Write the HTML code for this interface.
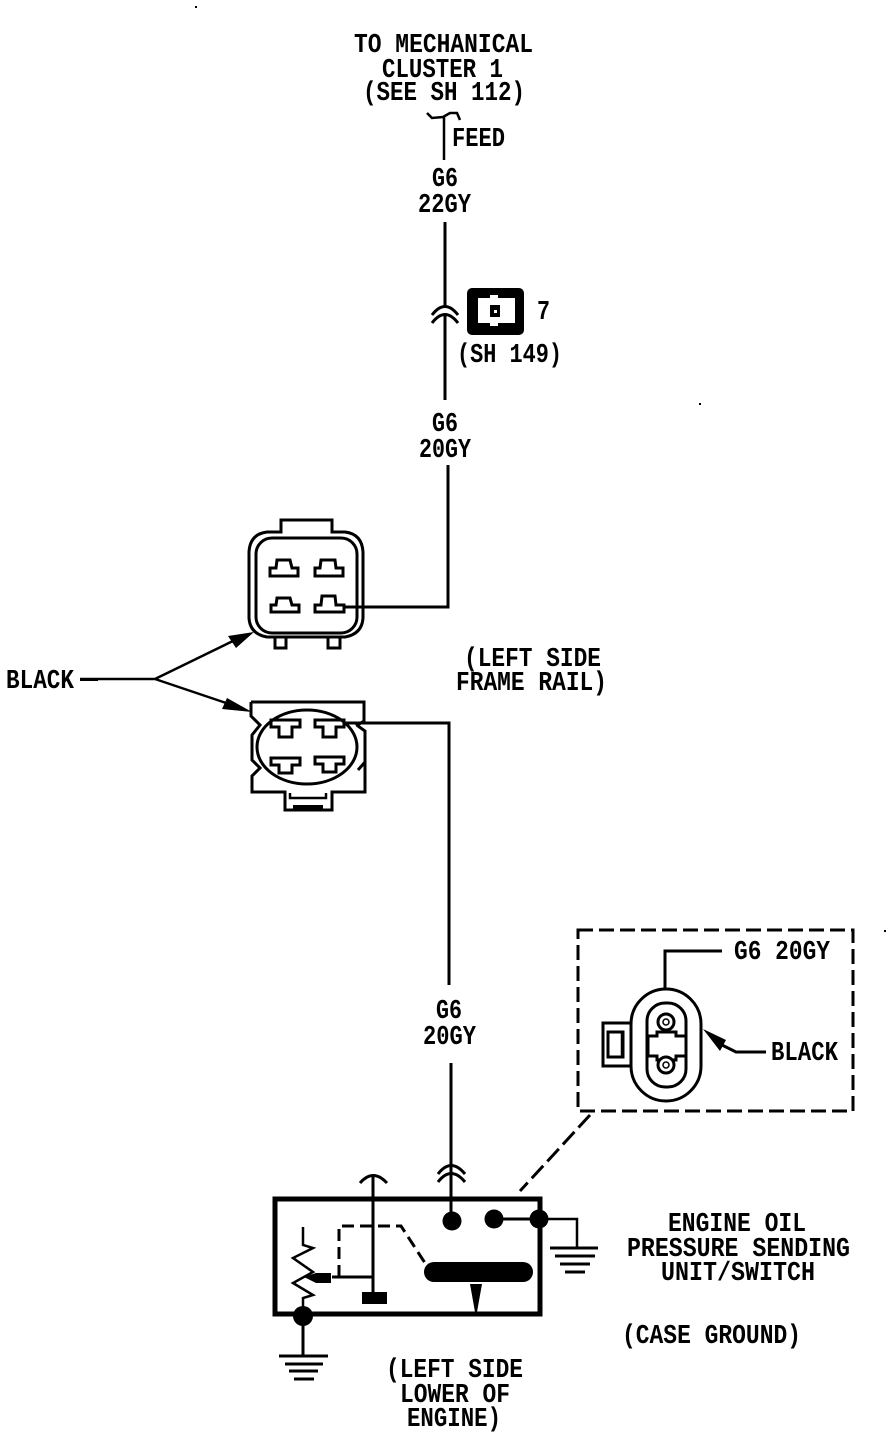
<!DOCTYPE html>
<html>
<head>
<meta charset="utf-8">
<style>
html,body{margin:0;padding:0;background:#fff;}
svg{display:block;}
text{font-family:"Liberation Mono",monospace;font-weight:bold;font-size:27px;fill:#000;}
.l{fill:none;stroke:#000;stroke-width:3;stroke-linejoin:miter;}
.t{fill:none;stroke:#000;stroke-width:2.5;}
.c{fill:none;stroke:#000;stroke-width:3;}
</style>
</head>
<body>
<svg xmlns="http://www.w3.org/2000/svg" width="896" height="1436" viewBox="0 0 896 1436" shape-rendering="crispEdges">
<rect width="896" height="1436" fill="#fff"/>

<!-- Labels -->
<g transform="translate(0,-1)">
<text x="354" y="53" textLength="179" lengthAdjust="spacingAndGlyphs">TO MECHANICAL</text>
<text x="382" y="78" textLength="121" lengthAdjust="spacingAndGlyphs">CLUSTER 1</text>
<text x="363" y="101" textLength="162" lengthAdjust="spacingAndGlyphs">(SEE SH 112)</text>
<text x="452" y="147" textLength="53" lengthAdjust="spacingAndGlyphs">FEED</text>
<text x="432" y="187" textLength="26" lengthAdjust="spacingAndGlyphs">G6</text>
<text x="418" y="213" textLength="53" lengthAdjust="spacingAndGlyphs">22GY</text>
<text x="537" y="320" textLength="13" lengthAdjust="spacingAndGlyphs">7</text>
<text x="457" y="363" textLength="105" lengthAdjust="spacingAndGlyphs">(SH 149)</text>
<text x="432" y="432" textLength="26" lengthAdjust="spacingAndGlyphs">G6</text>
<text x="419" y="458" textLength="52" lengthAdjust="spacingAndGlyphs">20GY</text>
<text x="6" y="689" textLength="68" lengthAdjust="spacingAndGlyphs">BLACK</text>
<text x="464" y="667" textLength="137" lengthAdjust="spacingAndGlyphs">(LEFT SIDE</text>
<text x="456" y="691" textLength="151" lengthAdjust="spacingAndGlyphs">FRAME RAIL)</text>
<text x="436" y="1019" textLength="26" lengthAdjust="spacingAndGlyphs">G6</text>
<text x="423" y="1045" textLength="53" lengthAdjust="spacingAndGlyphs">20GY</text>
<text x="734" y="960" textLength="96" lengthAdjust="spacingAndGlyphs">G6 20GY</text>
<text x="771" y="1061" textLength="67" lengthAdjust="spacingAndGlyphs">BLACK</text>
<text x="668" y="1232" textLength="138" lengthAdjust="spacingAndGlyphs">ENGINE OIL</text>
<text x="627" y="1257" textLength="223" lengthAdjust="spacingAndGlyphs">PRESSURE SENDING</text>
<text x="661" y="1281" textLength="154" lengthAdjust="spacingAndGlyphs">UNIT/SWITCH</text>
<text x="622" y="1344" textLength="179" lengthAdjust="spacingAndGlyphs">(CASE GROUND)</text>
<text x="386" y="1378" textLength="137" lengthAdjust="spacingAndGlyphs">(LEFT SIDE</text>
<text x="400" y="1403" textLength="110" lengthAdjust="spacingAndGlyphs">LOWER OF</text>
<text x="407" y="1427" textLength="94" lengthAdjust="spacingAndGlyphs">ENGINE)</text>
</g>

<!-- Top wire and feed -->
<g shape-rendering="geometricPrecision">
<path class="t" d="M427 113 L432 118 L443 117 L450 113 L457 113 L460 120"/>
<path class="t" d="M444 117 V160"/>
<path class="l" d="M445 222 V306 M445 314 V400"/>
<path class="c" d="M432 315 Q445 298 458 315 M432 323 Q445 306 458 323"/>

<!-- Connector symbol -->
<rect x="467" y="288" width="57" height="47" rx="5" fill="#000"/>
<path fill="#fff" d="M478 298 H490 V295 H498 V298 H515 V323 H498 V326 H490 V323 H478 Z"/>
<rect x="490" y="305" width="10" height="12" fill="#000"/>
<rect x="494" y="310" width="3" height="3" fill="#fff"/>

<!-- Upper connector -->
<path class="l" d="M448 465 V607 H345"/>
<path class="l" d="M281 532 V520 H332 V532 H345 Q362 534 363 552 V618 Q362 634 345 637 H267 Q250 634 249 618 V552 Q250 534 267 532 Z"/>
<rect x="256" y="538" width="101" height="95" rx="16" fill="none" stroke="#000" stroke-width="3"/>
<path class="l" d="M275 638 V648 H286 V638 M328 638 V648 H340 V638"/>
<path class="l" d="M277 560 H290 L292 568 H298 V576 H270 V568 H276 Z"/>
<path class="l" d="M321 560 H335 L336 568 H343 V576 H315 V568 H320 Z"/>
<path class="l" d="M277 598 H290 L292 605 H299 V612 H271 V605 H276 Z"/>
<path class="l" d="M322 596 H335 L336 605 H344 V612 H315 V605 H321 Z"/>

<!-- Black arrows -->
<path class="t" d="M80 679 H155 L235 640 M155 679 L235 706"/>
<path d="M80 678 H98 V681 H80 Z" fill="#000"/>
<path fill="#000" d="M254 632 L228 636 L236 648 Z"/>
<path fill="#000" d="M252 712 L227 698 L222 709 Z"/>

<!-- Lower connector -->
<path class="l" d="M251 702 H364 V721 L356 726 M251 702 V716 L260 725 L252 735 V760 L260 768 L252 776 V792 H285 V810 H332 V792 H365 V731 L358 726 M365 762 L358 770"/>
<ellipse cx="307" cy="747" rx="50" ry="37" fill="none" stroke="#000" stroke-width="3"/>
<path class="t" d="M290 793 V798 H326 V793"/>
<rect x="293" y="805" width="30" height="5" fill="#000"/>
<path class="l" d="M271 720 H300 V727 H292 V737 H279 V727 H271 Z"/>
<path class="l" d="M315 720 H344 V727 H336 V737 H323 V727 H315 Z"/>
<path class="l" d="M271 758 H300 V765 H292 V773 H279 V765 H271 Z"/>
<path class="l" d="M315 757 H344 V764 H336 V772 H323 V764 H315 Z"/>
<path class="l" d="M345 723 H449 V985"/>
<path class="l" d="M451 1063 V1222"/>
<path class="c" d="M438 1174 Q451 1157 465 1174 M438 1182 Q451 1165 465 1182"/>

<!-- Inset -->
<rect x="578" y="930" width="275" height="181" fill="none" stroke="#000" stroke-width="3" stroke-dasharray="15 6"/>
<path class="l" d="M665 1003 V951 H722"/>
<rect x="631" y="989" width="70" height="112" rx="35" fill="#fff" stroke="#000" stroke-width="3"/>
<rect x="647" y="1003" width="39" height="84" rx="18" fill="none" stroke="#000" stroke-width="3"/>
<path class="l" d="M648 1036 L657 1036 L657 1032 H676 V1036 H686 M648 1056 H657 V1060 H676 V1056 H686 M648 1036 V1056 M686 1036 V1056" fill="#fff"/>
<circle cx="666" cy="1022" r="8" fill="#fff" stroke="#000" stroke-width="3"/>
<circle cx="666" cy="1022" r="3" fill="none" stroke="#000" stroke-width="1.5"/>
<circle cx="666" cy="1065" r="8" fill="#fff" stroke="#000" stroke-width="3"/>
<circle cx="666" cy="1065" r="3" fill="none" stroke="#000" stroke-width="1.5"/>
<path class="l" d="M631 1023 H603 V1066 H631"/>
<rect x="608" y="1032" width="15" height="25" fill="none" stroke="#000" stroke-width="3"/>
<path class="t" d="M622 1033 V1056"/>
<path fill="#000" d="M703 1029 L726 1040 L720 1051 Z"/>
<path class="l" d="M720 1044 L736 1052 H766"/>

<!-- Leader -->
<path fill="none" stroke="#000" stroke-width="3" stroke-dasharray="17 6" d="M590 1115 L520 1191"/>

<!-- Sender box -->
<rect x="275" y="1199" width="265" height="115" fill="none" stroke="#000" stroke-width="5"/>
<circle cx="452" cy="1221" r="9.5" fill="#000"/>
<circle cx="494" cy="1219" r="9.5" fill="#000"/>
<circle cx="539" cy="1219" r="9.5" fill="#000"/>
<circle cx="303" cy="1316" r="10" fill="#000"/>
<path class="l" d="M494 1219 H539"/>
<path class="t" d="M539 1219 H577 V1248"/>
<path class="l" d="M550 1248 H598"/>
<path class="l" d="M555 1256 H595"/>
<path class="l" d="M560 1264 H590"/>
<path class="l" d="M565 1272 H585"/>
<path class="l" d="M373 1175 V1294"/>
<path class="c" d="M360 1183 Q373 1168 387 1183"/>
<rect x="362" y="1292" width="25" height="12" fill="#000"/>
<path fill="none" stroke="#000" stroke-width="3" stroke-dasharray="12 6" d="M339 1277 V1226 H401 L425 1263"/>
<rect x="424" y="1262" width="109" height="20" rx="10" fill="#000"/>
<path fill="#000" d="M470 1284 H482 L477 1312 H475 Z"/>
<path class="t" d="M303 1227 V1245 L313 1248 L293 1258 L313 1272 L293 1283 L313 1295 L303 1298 V1315"/>
<path class="l" d="M373 1277 H332"/>
<path fill="#000" d="M304 1277 L316 1273 H331 V1283 H316 Z"/>
<path class="l" d="M303 1320 V1356"/>
<path class="l" d="M279 1356 H328"/>
<path class="l" d="M285 1364 H323"/>
<path class="l" d="M289 1371 H318"/>
<path class="l" d="M294 1379 H314"/>
</g>

<!-- Specks -->
<rect x="699" y="403" width="2" height="2" fill="#000"/>
<rect x="195" y="6" width="2" height="2" fill="#000"/>
<rect x="884" y="930" width="2" height="2" fill="#000"/>
</svg>
</body>
</html>
